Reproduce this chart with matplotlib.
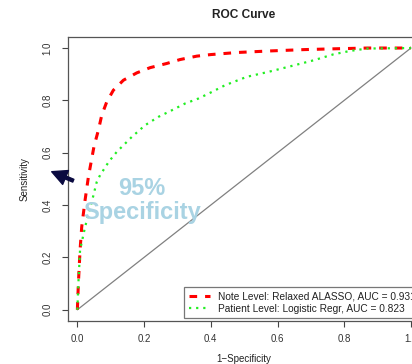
import matplotlib
matplotlib.use("Agg")
import matplotlib.pyplot as plt

plt.rcParams['font.family'] = ['Liberation Sans', 'DejaVu Sans']

# Data
note_fpr = [0, 0.003, 0.008, 0.013, 0.023, 0.033, 0.042, 0.050, 0.063, 0.073, 0.088,
            0.108, 0.138, 0.178, 0.218, 0.268, 0.308, 0.358, 0.40, 0.48, 0.58, 0.68,
            0.77, 0.87, 1.0]
note_tpr = [0, 0.10, 0.227, 0.316, 0.418, 0.507, 0.570, 0.625, 0.686, 0.743, 0.794,
            0.839, 0.877, 0.905, 0.925, 0.941, 0.956, 0.969, 0.975, 0.983, 0.989, 0.994,
            0.997, 1.0, 1.0]
pat_fpr = [0, 0.003, 0.008, 0.023, 0.043, 0.058, 0.068, 0.095, 0.118, 0.133, 0.163,
           0.203, 0.243, 0.283, 0.323, 0.363, 0.403, 0.443, 0.508, 0.573, 0.638, 0.708,
           0.768, 0.818, 0.868, 1.0]
pat_tpr = [0, 0.10, 0.227, 0.316, 0.411, 0.488, 0.514, 0.567, 0.603, 0.622, 0.660,
           0.705, 0.737, 0.762, 0.788, 0.807, 0.832, 0.858, 0.890, 0.909, 0.930, 0.953,
           0.976, 0.989, 0.998, 1.0]
diag = [0, 1]
ticks = [0.0, 0.2, 0.4, 0.6, 0.8, 1.0]
tick_labels = ["0.0", "0.2", "0.4", "0.6", "0.8", "1.0"]
labels = ["Note Level: Relaxed ALASSO, AUC = 0.931",
          "Patient Level: Logistic Regr, AUC = 0.823"]

W, H = 412, 364
fig = plt.figure(figsize=(W / 100, H / 100), dpi=100)
ax = fig.add_axes([67.7 / W, 1 - 320.7 / H, (420.6 - 67.7) / W, (320.7 - 37.3) / H])

ax.plot(diag, diag, color='#808080', lw=0.9, zorder=1)
ax.plot(note_fpr, note_tpr, color='#ff0000', lw=2.2, dashes=(2.5, 2.6), label=labels[0], zorder=2)
ax.plot(pat_fpr, pat_tpr, color='#22ee22', lw=1.6, dashes=(1, 2.2), label=labels[1], zorder=3)

ax.set_xlim(-0.029, 1.029)
ax.set_ylim(-0.042, 1.041)
ax.set_xticks(ticks)
ax.set_xticklabels(tick_labels)
ax.set_yticks(ticks)
ax.set_yticklabels(tick_labels, rotation=90, va='center')
ax.tick_params(axis='both', direction='out', length=4, width=0.8, colors='#444444',
               labelsize=7, labelcolor='#333333')
ax.tick_params(axis='x', pad=5.5)
ax.tick_params(axis='y', pad=7)
for s in ax.spines.values():
    s.set_color('#555555')
    s.set_linewidth(0.9)

fig.text(244 / W, 1 - 15 / H, "ROC Curve", ha='center', va='center',
         fontsize=8.6, fontweight='bold', color='#222222')
fig.text(244 / W, 1 - 359 / H, "1\u2212Specificity", ha='center', va='center',
         fontsize=7, color='#222222')
fig.text(25 / W, 1 - 179 / H, "Sensitivity", ha='center', va='center',
         fontsize=7, rotation=90, color='#222222')

leg = ax.legend(loc='lower right', bbox_to_anchor=(1.0, 0.008), fontsize=7.3,
                frameon=True, fancybox=False, borderaxespad=0, handlelength=2.1,
                handletextpad=0.8, borderpad=0.45, labelspacing=0.25)
leg.get_frame().set_edgecolor('#555555')
leg.get_frame().set_linewidth(0.9)
for t in leg.get_texts():
    t.set_color('#222222')

ax.text(0.194, 0.418, "95%\nSpecificity", ha='center', va='center', fontsize=17,
        fontweight='bold', color='#a9d3e3', linespacing=1.05, zorder=4)

ax.annotate("", xy=(51.7 / W, 1 - 171.7 / H), xycoords='figure fraction',
            xytext=(73.3 / W, 1 - 180.7 / H), textcoords='figure fraction',
            arrowprops=dict(arrowstyle='simple,head_length=0.9,head_width=0.9,tail_width=0.18',
                            mutation_scale=12, color='#0a0a40', shrinkA=0, shrinkB=0),
            annotation_clip=False)

fig.savefig("out.png", dpi=100)
